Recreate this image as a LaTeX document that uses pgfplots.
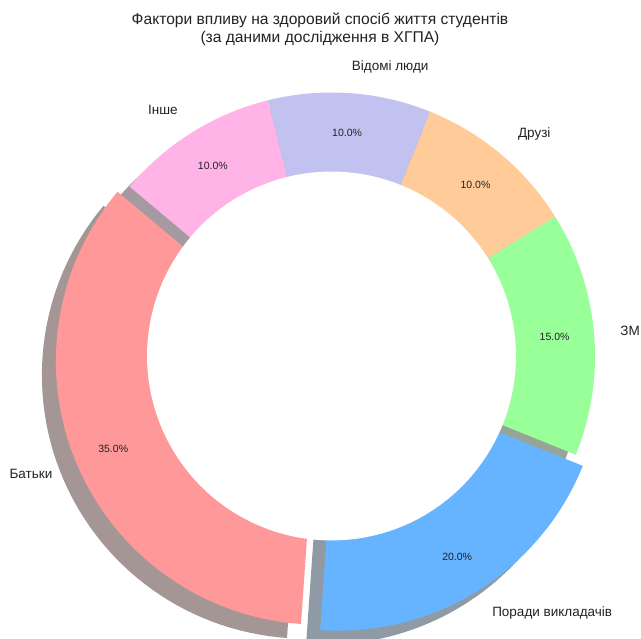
\documentclass[border=0pt]{standalone}
\usepackage{pgfplots}
\pgfplotsset{compat=1.18}
\usepackage{fontspec}
\setmainfont{Liberation Sans}
\definecolor{cBat}{HTML}{FF9999}
\definecolor{cPor}{HTML}{66B3FF}
\definecolor{cZmi}{HTML}{99FF99}
\definecolor{cDru}{HTML}{FFCC99}
\definecolor{cVid}{HTML}{C2C2F0}
\definecolor{cIn}{HTML}{FFB3E6}
\definecolor{txt}{HTML}{222222}
% geometry (px)
\def\cx{331.5}\def\cy{356}\def\R{263.5}
\def\shx{-14}\def\shy{14}
% shares (%)
\def\sBat{35}\def\sPor{20}\def\sZmi{15}\def\sDru{10}\def\sVid{10}\def\sIn{10}
\pgfmathsetmacro\aBat{140}
\pgfmathsetmacro\bBat{\aBat+3.6*\sBat}
\pgfmathsetmacro\bPor{\bBat+3.6*\sPor}
\pgfmathsetmacro\bZmi{\bPor+3.6*\sZmi}
\pgfmathsetmacro\bDru{\bZmi+3.6*\sDru}
\pgfmathsetmacro\bVid{\bDru+3.6*\sVid}
\pgfmathsetmacro\bIn{\bVid+3.6*\sIn}
% #1 start, #2 end, #3 explode (px), #4 x offset, #5 y offset, #6 style
\newcommand{\wedgeplot}[6]{%
  \addplot[#6, draw=none, samples at={-1,0,1,...,60}]
   ({\cx + #4 + #3*cos((#1+#2)/2) + ifthenelse(x<0,0,\R)*cos(#1+(#2-#1)*max(x,0)/60)},
    {\cy + #5 - #3*sin((#1+#2)/2) - ifthenelse(x<0,0,\R)*sin(#1+(#2-#1)*max(x,0)/60)});
}
% label: #1 start, #2 end, #3 dist factor, #4 anchor, #5 font, #6 text
\newcommand{\wlabel}[6]{%
  \node[anchor=#4, font=#5, text=txt, inner sep=0pt] at (axis cs:{\cx+#3*\R*cos((#1+#2)/2)},{\cy-#3*\R*sin((#1+#2)/2)}) {#6};
}
\newcommand{\lblfont}{\fontsize{13.5bp}{16bp}\selectfont}
\newcommand{\pctfont}{\fontsize{10.5bp}{12bp}\selectfont}
\begin{document}
\begin{tikzpicture}
\path[use as bounding box] (0,0) rectangle (641bp,639bp);
\clip (0,0) rectangle (641bp,639bp);
\begin{axis}[at={(0,0)}, anchor=south west, scale only axis, width=641bp, height=639bp,
  xmin=0, xmax=641, ymin=0, ymax=639, y dir=reverse, hide axis, clip=false]
% shadows
\wedgeplot{\aBat}{\bBat}{13.175}{\shx}{\shy}{fill=black!70!cBat, fill opacity=0.5}
\wedgeplot{\bBat}{\bPor}{13.175}{\shx}{\shy}{fill=black!70!cPor, fill opacity=0.5}
\wedgeplot{\bPor}{\bZmi}{0}{\shx}{\shy}{fill=black!70!cZmi, fill opacity=0.5}
\wedgeplot{\bZmi}{\bDru}{0}{\shx}{\shy}{fill=black!70!cDru, fill opacity=0.5}
\wedgeplot{\bDru}{\bVid}{0}{\shx}{\shy}{fill=black!70!cVid, fill opacity=0.5}
\wedgeplot{\bVid}{\bIn}{0}{\shx}{\shy}{fill=black!70!cIn, fill opacity=0.5}
% wedges
\wedgeplot{\aBat}{\bBat}{13.175}{0}{0}{fill=cBat}
\wedgeplot{\bBat}{\bPor}{13.175}{0}{0}{fill=cPor}
\wedgeplot{\bPor}{\bZmi}{0}{0}{0}{fill=cZmi}
\wedgeplot{\bZmi}{\bDru}{0}{0}{0}{fill=cDru}
\wedgeplot{\bDru}{\bVid}{0}{0}{0}{fill=cVid}
\wedgeplot{\bVid}{\bIn}{0}{0}{0}{fill=cIn}
% centre circle
\addplot[fill=white, draw=none, domain=0:360, samples=181] ({\cx+0.7*\R*cos(x)},{\cy-0.7*\R*sin(x)});
% labels
\wlabel{\aBat}{\bBat}{1.15}{east}{\lblfont}{Батьки}
\wlabel{\bBat}{\bPor}{1.15}{west}{\lblfont}{Поради викладачів}
\wlabel{\bPor}{\bZmi}{1.1}{west}{\lblfont}{ЗМІ}
\wlabel{\bZmi}{\bDru}{1.1}{west}{\lblfont}{Друзі}
\wlabel{\bDru}{\bVid}{1.1}{west}{\lblfont}{Відомі люди}
\wlabel{\bVid}{\bIn}{1.1}{east}{\lblfont}{Інше}
\wlabel{\aBat}{\bBat}{0.9}{center}{\pctfont}{35.0\%}
\wlabel{\bBat}{\bPor}{0.9}{center}{\pctfont}{20.0\%}
\wlabel{\bPor}{\bZmi}{0.85}{center}{\pctfont}{15.0\%}
\wlabel{\bZmi}{\bDru}{0.85}{center}{\pctfont}{10.0\%}
\wlabel{\bDru}{\bVid}{0.85}{center}{\pctfont}{10.0\%}
\wlabel{\bVid}{\bIn}{0.85}{center}{\pctfont}{10.0\%}
% title
\node[align=center, text=txt, font=\fontsize{15.6bp}{18bp}\selectfont, inner sep=0pt] at (axis cs:320,29)
 {Фактори впливу на здоровий спосіб життя студентів\\(за даними дослідження в ХГПА)};
\end{axis}
\end{tikzpicture}
\end{document}
